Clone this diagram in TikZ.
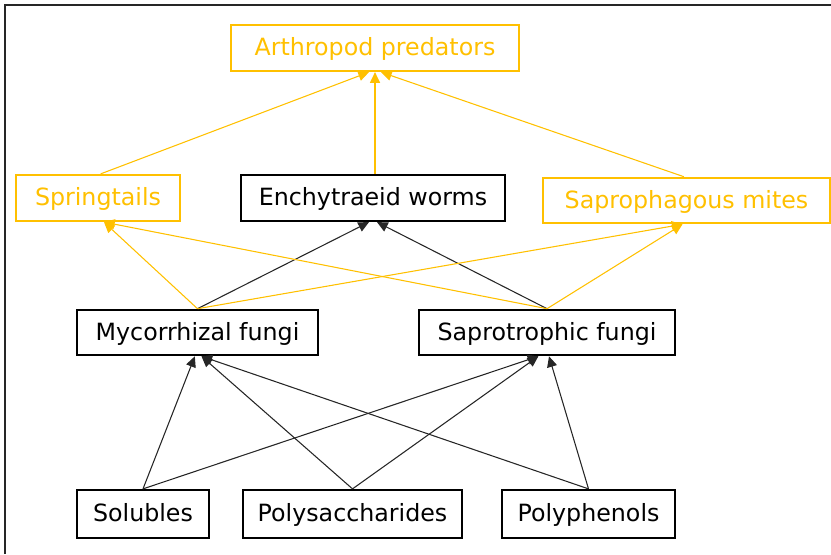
\documentclass[tikz,border=0pt]{standalone}
\usepackage{fontspec}
\setmainfont{DejaVu Sans}
\usetikzlibrary{arrows.meta}
\definecolor{webgold}{RGB}{255,192,0}
\tikzset{
    taxon/.style={rectangle, draw=black, fill=white, line width=1.7pt, inner sep=0pt, minimum height=34.5pt, text height=13pt, text depth=1.2pt, align=center, font=\fontsize{17.8}{21}\selectfont},
    taxongold/.style={taxon, draw=webgold, text=webgold},
    feed/.style={-{Triangle[length=8pt, width=7.5pt]}, line width=0.8pt, color=black!85},
    feedgold/.style={-{Triangle[length=8pt, width=7.5pt]}, line width=0.8pt, color=webgold},
    frame/.style={line width=1.8pt, black!85}
}
\begin{document}
\begin{tikzpicture}[x=0.75pt, y=-0.75pt]
    \useasboundingbox (0,0) rectangle (831,554);
    \draw[frame] (5,554) -- (5,5) -- (831,5);
    % top level
    \node[taxongold, minimum width=216pt] (pred) at (375,48) {Arthropod predators};
    % consumers
    \node[taxongold, minimum width=123pt] (spring) at (98,198) {Springtails};
    \node[taxon, minimum width=198pt] (worms) at (373,198) {Enchytraeid worms};
    \node[taxongold, minimum width=215pt, minimum height=34pt] (mites) at (686.5,200.5) {Saprophagous mites};
    % fungi
    \node[taxon, minimum width=181pt, minimum height=34pt] (myco) at (197.5,332.5) {Mycorrhizal fungi};
    \node[taxon, minimum width=192pt, minimum height=34pt] (sapro) at (547,332.5) {Saprotrophic fungi};
    % substrates
    \node[taxon, minimum width=99pt, minimum height=36pt] (sol) at (143,514) {Solubles};
    \node[taxon, minimum width=164pt, minimum height=36pt] (polysac) at (352.5,514) {Polysaccharides};
    \node[taxon, minimum width=130pt, minimum height=36pt] (polyphen) at (588.5,514) {Polyphenols};

    % substrates to fungi
    \draw[feed] (sol.north) -- ([xshift=-2pt]myco.south);
    \draw[feed] (polysac.north) -- ([xshift=3pt]myco.south);
    \draw[feed] (polyphen.north) -- ([xshift=3pt]myco.south);
    \draw[feed] (sol.north) -- ([xshift=-6.5pt]sapro.south);
    \draw[feed] (polysac.north) -- ([xshift=-6.5pt]sapro.south);
    \draw[feed] (polyphen.north) -- ([xshift=1.5pt]sapro.south);

    % fungi to consumers
    \draw[feed] (myco.north) -- ([xshift=-3pt]worms.south);
    \draw[feed] (sapro.north) -- ([xshift=3pt]worms.south);
    \draw[feedgold] (myco.north) -- ([xshift=4.5pt]spring.south);
    \draw[feedgold] (sapro.north) -- ([xshift=4.5pt]spring.south);
    \draw[feedgold] (myco.north) -- ([xshift=-3pt]mites.south);
    \draw[feedgold] (sapro.north) -- ([xshift=-3pt]mites.south);

    % consumers to predators
    \draw[feedgold] ([xshift=2pt]spring.north) -- ([xshift=-4.5pt]pred.south);
    \draw[feedgold] ([xshift=1.5pt]worms.north) -- (pred.south);
    \draw[feedgold] ([xshift=-2pt]mites.north) -- ([xshift=4.5pt]pred.south);
\end{tikzpicture}
\end{document}
